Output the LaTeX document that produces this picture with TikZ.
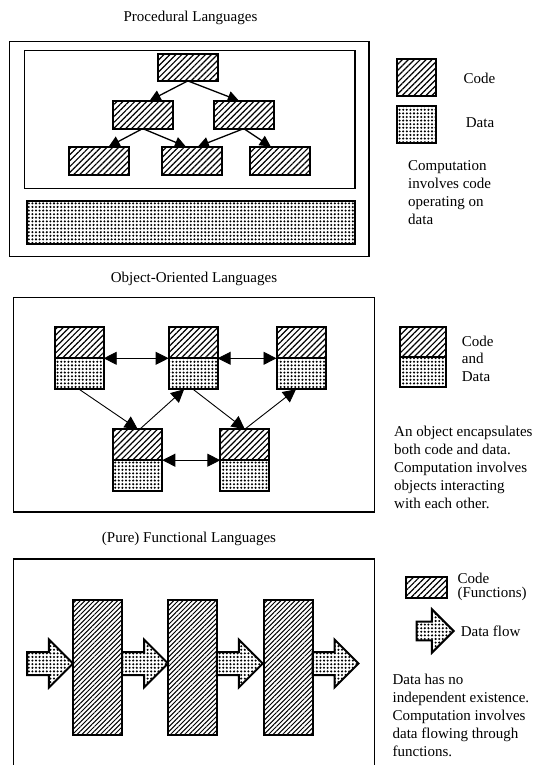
\documentclass[tikz,border=0pt]{standalone}
\usepackage{fontspec}
\setmainfont{Liberation Serif}
\usetikzlibrary{arrows.meta,shapes.arrows,patterns.meta,positioning}
\tikzset{
	code/.style={draw, line width=2pt, outer sep=0pt, pattern={Lines[angle=45,distance=4.2pt,line width=1.2pt]}},
	densecode/.style={code, pattern={Lines[angle=45,distance=3.3pt,line width=1pt]}},
	data/.style={draw, line width=2pt, outer sep=0pt, pattern={Dots[distance=3.6pt,radius=1.15pt]}},
	frame/.style={line width=1.5pt},
	call/.style={line width=1.3pt, -{Triangle[length=11pt,width=11pt]}},
	msg/.style={line width=0.9pt, -{Triangle[length=13pt,width=13pt]}},
	msgs/.style={line width=0.9pt, {Triangle[length=13pt,width=13pt]}-{Triangle[length=13pt,width=13pt]}},
	flow/.style={single arrow, data, inner sep=0pt, inner ysep=10.5pt, minimum height=46pt, minimum width=46pt, single arrow head extend=12.5pt},
	txt/.style={inner sep=0pt, align=left, anchor=north west}
}

\begin{document}
\begin{tikzpicture}[x=1pt, y=-1pt, every node/.style={font=\fontsize{15}{18}\selectfont}]
			\useasboundingbox (0,0) rectangle (534,765);
			\clip (0,0) rectangle (534,765);

			% procedural
			\node[anchor=base] (title1) at (190.5,22) {Procedural Languages};
			\draw[frame] (9.5,41.5) rectangle (368.8,256.5);
			\draw[frame] (24.5,50.4) rectangle (355.2,188.3);
			\node[code, minimum width=60pt, minimum height=27pt] (top) at (187.8,67.4) {};
			\node[code, minimum width=60pt, minimum height=28pt] (ml) at (142.7,114.6) {};
			\node[code, minimum width=60pt, minimum height=28pt] (mr) at (243.8,114.6) {};
			\node[code, minimum width=60pt, minimum height=28pt] (bl) at (98.7,160.6) {};
			\node[code, minimum width=60pt, minimum height=28pt] (bm) at (191.9,160.6) {};
			\node[code, minimum width=60pt, minimum height=28pt] (br) at (279.8,160.6) {};
			\node[data, minimum width=328.6pt, minimum height=42.9pt] (store) at (190.9,222.5) {};
			\draw[call] (top.south) -- ([xshift=7pt]ml.north);
			\draw[call] (top.south) -- ([xshift=-5pt]mr.north);
			\draw[call] (ml.south) -- ([xshift=10pt]bl.north);
			\draw[call] (ml.south) -- ([xshift=-6pt]bm.north);
			\draw[call] (mr.south) -- ([xshift=6pt]bm.north);
			\draw[call] (mr.south) -- ([xshift=-9pt]br.north);
			\node[code, minimum width=39pt, minimum height=36.7pt] (keycode) at (416.2,77.4) {};
			\node[data, minimum width=39pt, minimum height=37pt] (keydata) at (416.2,124.2) {};
			\node[anchor=base west] (keycodetxt) at (460,84) {Code};
			\node[anchor=base west] (keydatatxt) at (462.3,127.3) {Data};
			\node[txt] (note1) at (408,160.5) {Computation\\involves code\\operating on\\data};

			% object-oriented
			\node[anchor=base] (title2) at (194,282) {Object-Oriented Languages};
			\draw[frame] (13.6,297.5) rectangle (374.6,512);
			\foreach \o/\x/\y in {o1/79.2/342.8, o2/193.1/342.8, o3/301/342.8, o4/137.8/444.7, o5/244.8/444.7}{
				\node[code, minimum width=49pt, minimum height=31pt] (\o c) at (\x,\y) {};
				\node[data, minimum width=49pt, minimum height=31pt, below=0pt of \o c] (\o d) {};
			}
			\draw[msgs] (o1c.south east) -- (o2c.south west);
			\draw[msgs] (o2c.south east) -- (o3c.south west);
			\draw[msgs] (o4c.south east) -- (o5c.south west);
			\draw[msg] (o1d.south) -- (o4c.north);
			\draw[msg] ([xshift=2pt]o4c.north) -- ([xshift=-9pt]o2d.south);
			\draw[msg] (o2d.south) -- (o5c.north);
			\draw[msg] (o5c.north) -- ([xshift=-5pt]o3d.south);
			\node[code, minimum width=46pt, minimum height=30pt] (keyobjc) at (423,342) {};
			\node[data, minimum width=46pt, minimum height=30pt, below=0pt of keyobjc] (keyobjd) {};
			\node[txt, font=\fontsize{15}{17.3}\selectfont] (keyobjtxt) at (461.7,335.8) {Code\\and\\Data};
			\node[txt] (note2) at (394,426.2) {An object encapsulates\\both code and data.\\Computation involves\\objects interacting\\with each other.};

			% functional
			\node[anchor=base] (title3) at (189,542) {(Pure) Functional Languages};
			\draw[frame] (13.6,559.2) rectangle (374.6,800);
			\node[densecode, minimum width=49pt, minimum height=135pt] (f1) at (97.5,667.5) {};
			\node[densecode, minimum width=49pt, minimum height=135pt] (f2) at (192.3,667.5) {};
			\node[densecode, minimum width=49pt, minimum height=135pt] (f3) at (288,667.5) {};
			\node[flow, anchor=tip] (in) at ([yshift=4pt]f1.west) {};
			\node[flow, anchor=tail] (a12) at ([yshift=4pt]f1.east) {};
			\node[flow, anchor=tail] (a23) at ([yshift=4pt]f2.east) {};
			\node[flow, anchor=tail] (out) at ([yshift=4pt]f3.east) {};
			\node[code, minimum width=41pt, minimum height=21pt] (keyfun) at (426.5,587.7) {};
			\node[flow, minimum height=37pt, minimum width=42pt, inner ysep=8.4pt, single arrow head extend=12.4pt] (keyflow) at (430.4,631) {};
			\node[txt, font=\fontsize{15}{14}\selectfont] (keyfuntxt) at (457.3,572.5) {Code\\(Functions)};
			\node[anchor=base west] (keyflowtxt) at (457.3,636.7) {Data flow};
			\node[txt] (note3) at (392.4,674.3) {Data has no\\independent existence.\\Computation involves\\data flowing through\\functions.};
\end{tikzpicture}
\end{document}
